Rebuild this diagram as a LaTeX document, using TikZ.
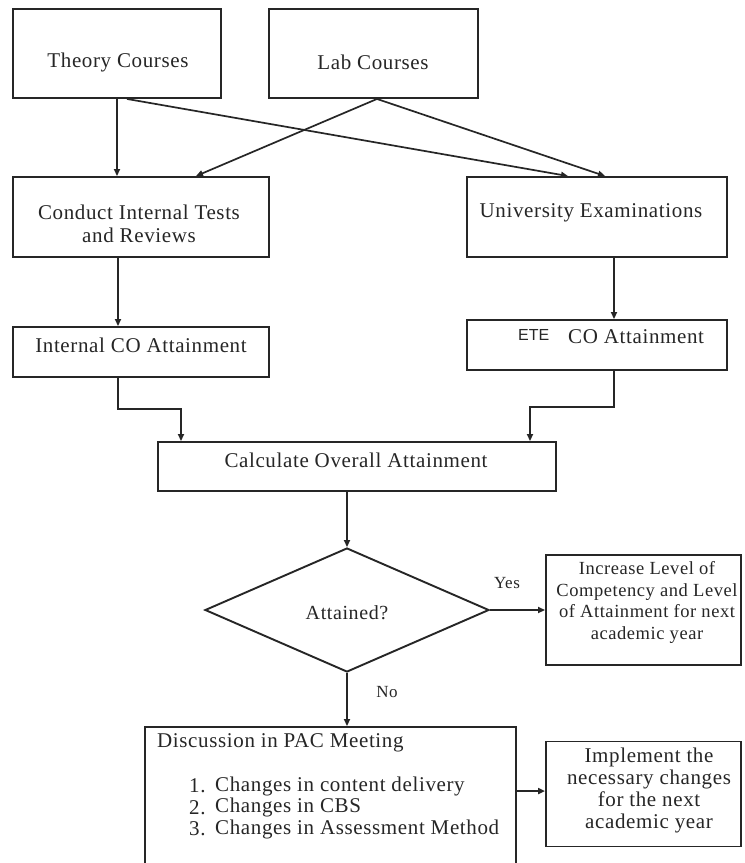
\documentclass[tikz,border=0pt]{standalone}
\usepackage{fontspec}
\setmainfont[LetterSpace=3]{Liberation Serif}
\newfontfamily\etefont{Liberation Sans}
\usetikzlibrary{shapes.geometric,arrows.meta,calc}
\definecolor{ink}{HTML}{262626}
\tikzset{
  bx/.style={draw=ink, line width=1.9pt, rectangle, inner sep=0pt},
  txt/.style={text=ink, inner sep=0pt, align=center, font=\fontsize{21}{23}\selectfont},
  smalltxt/.style={text=ink, inner sep=0pt, align=center, font=\fontsize{18.5}{21.5}\selectfont},
  lbl/.style={text=ink, inner sep=0pt, font=\fontsize{17}{19}\selectfont},
  arr/.style={draw=ink, line width=1.7pt, -{Triangle[length=7pt,width=6pt]}},
}
\begin{document}
\begin{tikzpicture}[x=1pt,y=-1pt]
\useasboundingbox (0,0) rectangle (745,863);
\fill[white] (0,0) rectangle (745,863);
\clip (0,0) rectangle (745,863);

% boxes
\node[bx, minimum width=208, minimum height=89] (theory) at (117,53.5) {};
\node[bx, minimum width=209, minimum height=89] (lab) at (373.5,53.5) {};
\node[bx, minimum width=256, minimum height=80] (conduct) at (141,217) {};
\node[bx, minimum width=260, minimum height=80] (univ) at (597,217) {};
\node[bx, minimum width=256, minimum height=50] (internal) at (141,352) {};
\node[bx, minimum width=260, minimum height=50] (ete) at (597,345) {};
\node[bx, minimum width=398, minimum height=49] (calc) at (357,466.5) {};
\node[draw=ink, line width=1.9pt, diamond, aspect=2.3, inner sep=0pt,
      minimum width=284, minimum height=124] (dia) at (347,610) {};
\node[bx, minimum width=195, minimum height=110] (increase) at (643.5,610) {};
\node[bx, minimum width=371, minimum height=173] (discussion) at (330.5,813.5) {};
\node[bx, minimum width=195, minimum height=105] (implement) at (643.5,794) {};

% texts
\node[txt] (ttheory) at (118,62) {Theory Courses};
\node[txt] (tlab) at (373,62) {Lab Courses};
\node[txt] (tconduct) at (139,223.5) {Conduct Internal Tests\\and Reviews};
\node[txt] (tuniv) at (591,213) {University Examinations};
\node[txt] (tinternal) at (141,345) {Internal CO Attainment};
\node[text=ink, inner sep=0pt, font=\etefont\fontsize{16}{18}\selectfont, anchor=west] (tete) at (518,335) {ETE};
\node[txt, anchor=west] (tco) at (568,337) {CO Attainment};
\node[txt] (tcalc) at (356,460) {Calculate Overall Attainment};
\node[txt, font=\fontsize{20}{22}\selectfont] (tdia) at (347,613) {Attained?};
\node[smalltxt] (tincrease) at (647,602.5) {Increase Level of\\Competency and Level\\of Attainment for next\\academic year};
\node[txt, font=\fontsize{21}{22}\selectfont] (timplement) at (649,790) {Implement the\\necessary changes\\for the next\\academic year};
\node[txt, anchor=west] (tdisc) at (157,743) {Discussion in PAC Meeting};
\node[txt, anchor=west] (n1) at (189,786) {1.};
\node[txt, anchor=west] (n2) at (189,807.5) {2.};
\node[txt, anchor=west] (n3) at (189,829) {3.};
\node[txt, anchor=west] (i1) at (215,786) {Changes in content delivery};
\node[txt, anchor=west] (i2) at (215,807.5) {Changes in CBS};
\node[txt, anchor=west] (i3) at (215,829) {Changes in Assessment Method};
\node[lbl] (yes) at (507,583) {Yes};
\node[lbl] (no) at (387,692) {No};

% connectors
\draw[arr] (theory.south) -- (theory.south |- conduct.north);
\draw[arr] ([xshift=10pt]theory.south) -- ([xshift=-29pt]univ.north);
\draw[arr] ([xshift=3.5pt]lab.south) -- ([xshift=55pt]conduct.north);
\draw[arr] ([xshift=3.5pt]lab.south) -- ([xshift=8pt]univ.north);
\draw[arr] ([xshift=-23pt]conduct.south) -- ([xshift=-23pt]internal.north);
\draw[arr] ([xshift=17pt]univ.south) -- ([xshift=17pt]ete.north);
\draw[arr] ([xshift=-23pt]internal.south) -- ++(0,31) -| ([xshift=-176pt]calc.north);
\draw[arr] ([xshift=17pt]ete.south) -- ++(0,36) -| ([xshift=173pt]calc.north);
\draw[arr] (calc.south -| dia.north) -- (dia.north);
\draw[arr] (dia.east) -- (dia.east -| increase.west);
\draw[arr] (dia.south) -- (dia.south |- discussion.north);
\coordinate (dright) at ($(discussion.north east)+(0,65)$);
\draw[arr] (dright) -- (dright -| implement.west);
\end{tikzpicture}
\end{document}
